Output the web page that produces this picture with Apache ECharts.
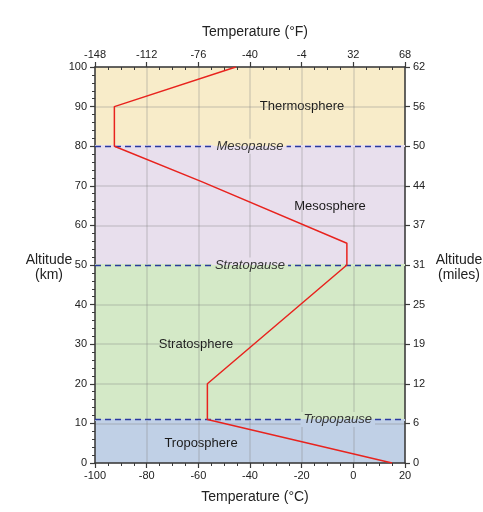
<!DOCTYPE html>
<html>
<head>
<meta charset="utf-8">
<script src="https://cdn.jsdelivr.net/npm/echarts@6/dist/echarts.min.js"></script>
<style>
html,body{margin:0;padding:0;background:#fff;}
#chart{width:483px;height:512px;}
</style>
</head>
<body>
<div id="chart"></div>
<script>
// ---- data ----
const temperatureC = [15, -56.5, -56.5, -2.5, -2.5, -58.5, -92.5, -92.5, -45.5];
const altitudeKm   = [0, 11, 20, 50, 55.5, 71, 80, 90, 100];
const layerNames   = ['Troposphere', 'Stratosphere', 'Mesosphere', 'Thermosphere'];
const layerBottoms = [0, 11, 50, 80];
const layerTops    = [11, 50, 80, 100];
const pauseNames   = ['Tropopause', 'Stratopause', 'Mesopause'];
const pauseAltitudes = [11, 50, 80];
const fahrenheitLabels = ['-148', '-112', '-76', '-40', '-4', '32', '68'];
const milesLabels = ['0', '6', '12', '19', '25', '31', '37', '44', '50', '56', '62'];

// ---- styles ----
const layerColors = ['#c0d0e6', '#d4e9c7', '#e8dfed', '#f8ecc9'];
const layerLabelOffsets = [[-49, 2], [-54, 2], [80, 1], [52, 0]];
const FONT = '"Liberation Sans", Arial, Helvetica, sans-serif';

const chart = echarts.init(document.getElementById('chart'), null, {renderer: 'canvas'});

function splitBg(upper, lower) {
  return {
    type: 'linear', x: 0, y: 0, x2: 0, y2: 1,
    colorStops: [
      {offset: 0, color: upper}, {offset: 0.5, color: upper},
      {offset: 0.5, color: lower}, {offset: 1, color: lower}
    ]
  };
}

const pauseLabelStyles = [
  {position: 'insideEnd', distance: [30, 0]},
  {position: 'insideMiddle'},
  {position: 'insideMiddle'}
];

const axisLineStyle = {color: '#3a3a3a', width: 1.5};
const labelStyle = {color: '#222', fontSize: 11, fontFamily: FONT};
const gridLine = {show: true, lineStyle: {color: 'rgba(128,128,128,0.3)', width: 1.5}};

// solid under-lines hide the grid behind the dash gaps
const pauseUnderLines = pauseNames.map((name, i) => ({
  yAxis: pauseAltitudes[i],
  lineStyle: {type: 'solid', color: layerColors[i], width: 2},
  label: {show: false}
}));
const pauseDashLines = pauseNames.map((name, i) => ({
  yAxis: pauseAltitudes[i], name: name,
  label: Object.assign({show: true, backgroundColor: splitBg(layerColors[i + 1], layerColors[i])}, pauseLabelStyles[i])
}));

const option = {
  animation: false,
  backgroundColor: '#fff',
  title: [
    {text: 'Temperature (°F)', left: 250, top: 20, textAlign: 'center',
     textStyle: {fontSize: 14, fontWeight: 'normal', color: '#222', fontFamily: FONT}},
    {text: 'Temperature (°C)', left: 250, top: 485, textAlign: 'center',
     textStyle: {fontSize: 14, fontWeight: 'normal', color: '#222', fontFamily: FONT}},
    {text: 'Altitude\n(km)', left: 44, top: 248, textAlign: 'center',
     textStyle: {fontSize: 14, fontWeight: 'normal', color: '#222', fontFamily: FONT, lineHeight: 15, align: 'center'}},
    {text: 'Altitude\n(miles)', left: 454, top: 248, textAlign: 'center',
     textStyle: {fontSize: 14, fontWeight: 'normal', color: '#222', fontFamily: FONT, lineHeight: 15, align: 'center'}}
  ],
  grid: {left: 95, right: 78, top: 67, bottom: 49, containLabel: false},
  xAxis: [
    {
      type: 'value', position: 'bottom', min: -100, max: 20, interval: 20, z: 1.5,
      axisLine: {show: true, onZero: false, lineStyle: axisLineStyle},
      axisTick: {show: true, length: 5, lineStyle: {color: '#3a3a3a', width: 1.2}},
      minorTick: {show: true, splitNumber: 4, length: 3, lineStyle: {color: '#3a3a3a', width: 1}},
      axisLabel: Object.assign({margin: 7}, labelStyle),
      splitLine: gridLine
    },
    {
      type: 'value', position: 'top', min: -100, max: 20, interval: 20, z: 1.5,
      axisLine: {show: true, onZero: false, lineStyle: axisLineStyle},
      axisTick: {show: true, length: 5, lineStyle: {color: '#3a3a3a', width: 1.2}},
      minorTick: {show: true, splitNumber: 4, length: -3, lineStyle: {color: '#3a3a3a', width: 1}},
      axisLabel: Object.assign({margin: 7, formatter: v => fahrenheitLabels[Math.round((v + 100) / 20)]}, labelStyle),
      splitLine: {show: false}
    }
  ],
  yAxis: [
    {
      type: 'value', position: 'left', min: 0, max: 100, interval: 10, z: 1.5,
      axisLine: {show: true, onZero: false, lineStyle: axisLineStyle},
      axisTick: {show: true, length: 5, lineStyle: {color: '#3a3a3a', width: 1.2}},
      minorTick: {show: true, splitNumber: 5, length: 3, lineStyle: {color: '#3a3a3a', width: 1}},
      axisLabel: Object.assign({margin: 8}, labelStyle),
      splitLine: gridLine
    },
    {
      type: 'value', position: 'right', min: 0, max: 100, interval: 10, z: 1.5,
      axisLine: {show: true, onZero: false, lineStyle: axisLineStyle},
      axisTick: {show: true, length: 5, lineStyle: {color: '#3a3a3a', width: 1.2}},
      axisLabel: Object.assign({margin: 8, formatter: v => milesLabels[Math.round(v / 10)]}, labelStyle),
      splitLine: {show: false}
    }
  ],
  series: [
    {
      type: 'line',
      xAxisIndex: 0, yAxisIndex: 0,
      data: temperatureC.map((t, i) => [t, altitudeKm[i]]),
      showSymbol: false, symbol: 'none',
      lineStyle: {color: '#e8231e', width: 1.5},
      z: 3,
      markArea: {
        silent: true,
        z: 1,
        label: {show: true, position: 'inside', color: '#1a1a1a', fontSize: 13, fontFamily: FONT},
        data: layerNames.map((name, i) => [
          {yAxis: layerBottoms[i], name: name,
           itemStyle: {color: layerColors[i]},
           label: {offset: layerLabelOffsets[i]}},
          {yAxis: layerTops[i]}
        ])
      },
      markLine: {
        silent: true,
        z: 2,
        symbol: ['none', 'none'],
        lineStyle: {color: '#2a3a9e', type: [6, 4], width: 1.3},
        label: {formatter: '{b}', fontStyle: 'italic', fontSize: 13,
                color: '#333', fontFamily: FONT, padding: [1, 3]},
        data: pauseUnderLines.concat(pauseDashLines)
      }
    }
  ]
};

chart.setOption(option);
</script>
</body>
</html>
